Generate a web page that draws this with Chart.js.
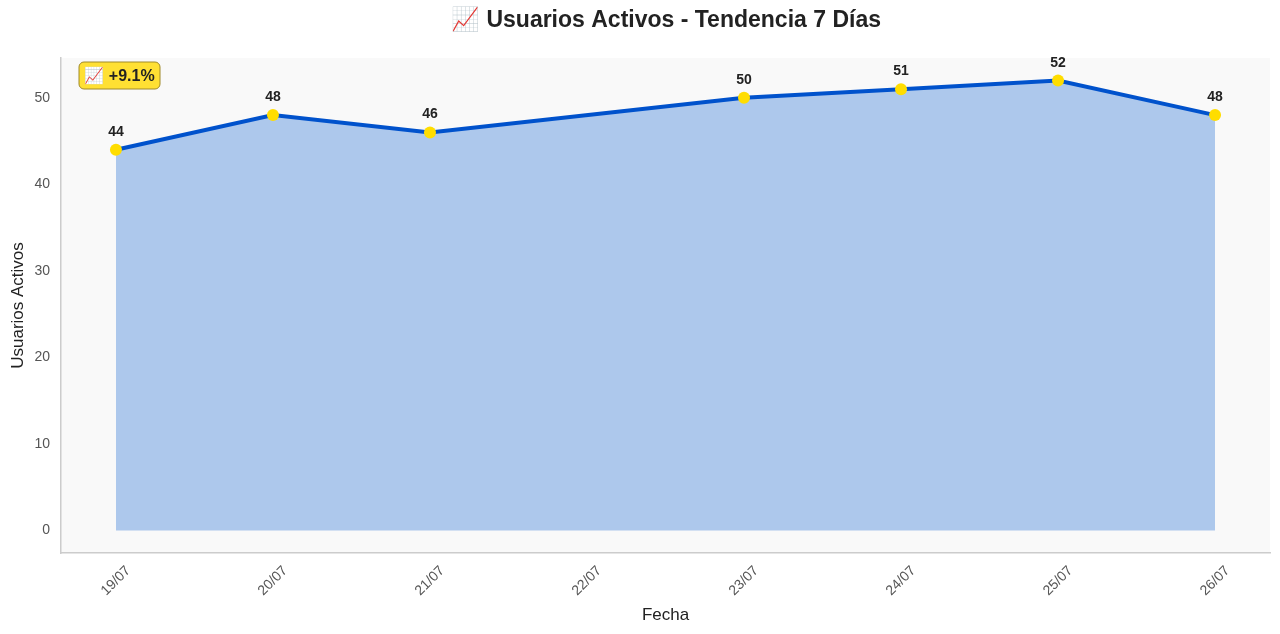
<!DOCTYPE html>
<html>
<head>
<meta charset="utf-8">
<script src="https://cdn.jsdelivr.net/npm/chart.js@4.4.1/dist/chart.umd.min.js"></script>
<style>
  html, body { margin: 0; padding: 0; background: #fff; }
  #wrap { width: 1280px; height: 634px; }
</style>
</head>
<body>
<div id="wrap"><canvas id="usersChart" width="1280" height="634"></canvas></div>
<script>
// data
const tickLabels = ["19/07", "20/07", "21/07", "22/07", "23/07", "24/07", "25/07", "26/07"];
const dates = ["19/07", "20/07", "21/07", "23/07", "24/07", "25/07", "26/07"];
const users = [44, 48, 46, 50, 51, 52, 48];
const chartTitle = "📈 Usuarios Activos - Tendencia 7 Días";
const badgeText = "📈 +9.1%";

const FONT = "'Liberation Sans', Arial, sans-serif";

const points = dates.map((d, i) => ({ x: tickLabels.indexOf(d), y: users[i] }));

// plot background, titles, tick labels, value labels, badge
const decor = {
  id: "decor",
  beforeDraw(chart) {
    const { ctx, chartArea: a } = chart;
    ctx.save();
    ctx.fillStyle = "#f9f9f9";
    ctx.fillRect(a.left, a.top, a.right - a.left, a.bottom - a.top);
    ctx.restore();
  },
  afterDraw(chart) {
    const { ctx, chartArea: a } = chart;
    const meta = chart.getDatasetMeta(0);
    const xs = chart.scales.x;
    ctx.save();
    // title
    ctx.fillStyle = "#222";
    ctx.font = "bold 23px " + FONT;
    ctx.textAlign = "center";
    ctx.textBaseline = "middle";
    ctx.fillText(chartTitle, 666, 21);

    // x tick labels, rotated 45 and centred on the tick
    ctx.fillStyle = "#555";
    ctx.font = "14px " + FONT;
    tickLabels.forEach((t, i) => {
      ctx.save();
      ctx.translate(xs.getPixelForValue(i), 581);
      ctx.rotate(-Math.PI / 4);
      ctx.fillText(t, 0, 0);
      ctx.restore();
    });

    // axis titles
    ctx.fillStyle = "#222";
    ctx.font = "17px " + FONT;
    ctx.fillText("Fecha", (a.left + a.right) / 2, 615);
    ctx.save();
    ctx.translate(18, (a.top + a.bottom) / 2);
    ctx.rotate(-Math.PI / 2);
    ctx.fillText("Usuarios Activos", 0, 0);
    ctx.restore();

    // value labels
    ctx.font = "bold 14px " + FONT;
    ctx.fillStyle = "#222";
    ctx.textBaseline = "alphabetic";
    meta.data.forEach((p, i) => {
      ctx.fillText(String(users[i]), p.x, p.y - 14);
    });

    // badge
    const bx = a.left + 18, by = a.top + 4, bw = 81, bh = 27;
    ctx.beginPath();
    ctx.roundRect(bx, by, bw, bh, 5);
    ctx.fillStyle = "#ffe033";
    ctx.fill();
    ctx.strokeStyle = "#a08a2a";
    ctx.lineWidth = 1;
    ctx.stroke();
    ctx.fillStyle = "#222";
    ctx.font = "bold 16px " + FONT;
    ctx.textAlign = "center";
    ctx.textBaseline = "middle";
    ctx.fillText(badgeText, bx + bw / 2, by + bh / 2 + 1);
    ctx.restore();
  }
};

const chart = new Chart(document.getElementById("usersChart"), {
  type: "line",
  data: {
    datasets: [{
      data: points,
      borderColor: "#0052cc",
      borderWidth: 4,
      backgroundColor: "rgba(80, 140, 220, 0.45)",
      fill: "origin",
      tension: 0,
      pointRadius: 6,
      pointBorderWidth: 0,
      pointBackgroundColor: "#ffdd00",
      pointHoverRadius: 6
    }]
  },
  options: {
    responsive: false,
    animation: false,
    devicePixelRatio: 1,
    layout: { padding: { top: 58, right: 10, left: 0, bottom: 0 } },
    plugins: {
      legend: { display: false },
      tooltip: { enabled: false }
    },
    scales: {
      x: {
        type: "linear",
        min: -0.35,
        max: tickLabels.length - 1 + 0.35,
        afterBuildTicks: (s) => { s.ticks = tickLabels.map((t, i) => ({ value: i })); },
        afterFit: (s) => { s.height = 81; },
        grid: { display: false, drawTicks: false },
        border: { display: true, color: "#cccccc", width: 1.5 },
        ticks: { display: false }
      },
      y: {
        min: -2.6,
        max: 54.6,
        afterBuildTicks: (s) => { s.ticks = [0, 10, 20, 30, 40, 50].map(v => ({ value: v })); },
        afterFit: (s) => { s.width = 61; },
        grid: { display: false, drawTicks: false },
        border: { display: true, color: "#cccccc", width: 1.5 },
        ticks: {
          padding: 11,
          color: "#555",
          font: { family: FONT, size: 14 }
        }
      }
    }
  },
  plugins: [decor]
});
</script>
</body>
</html>
